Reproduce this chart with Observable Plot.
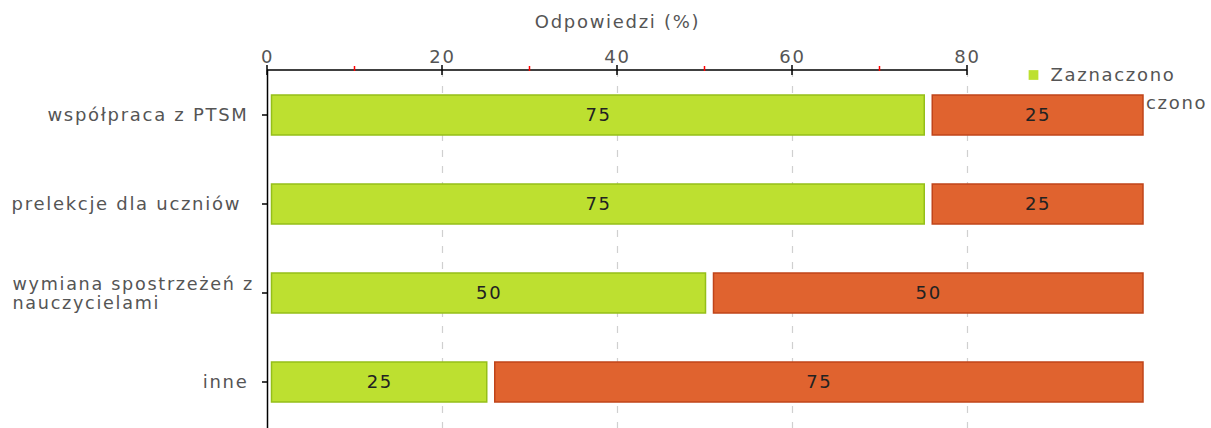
<!DOCTYPE html>
<html>
<head>
<meta charset="utf-8">
<script src="https://cdn.jsdelivr.net/npm/d3@7"></script>
<script src="https://cdn.jsdelivr.net/npm/@observablehq/plot@0.6"></script>
<style>
  html, body { margin: 0; padding: 0; background: #fff; }
  #chart { width: 1211px; height: 428px; overflow: hidden; }
</style>
</head>
<body>
<div id="chart"></div>
<script>
// ---- data ----
const categories = ["współpraca z PTSM", "prelekcje dla uczniów ", "wymiana spostrzeżeń z nauczycielami", "inne"];
const categoryLabels = ["współpraca z PTSM", "prelekcje dla uczniów\u00a0", "wymiana spostrzeżeń z\nnauczycielami", "inne"];
const zaznaczono = [75, 75, 50, 25];
const niezaznaczono = [25, 25, 50, 75];
const series = ["Zaznaczono", "Niezaznaczono"];
const xTicks = [0, 20, 40, 60, 80];
const xMinorTicks = [10, 30, 50, 70];
const gridTicks = [20, 40, 60, 80];
const axisTitle = "Odpowiedzi (%)";

// ---- style ----
const FONT = "DejaVu Sans, Verdana, sans-serif";
const FS = 18;
const GREEN = "#bde030", GREEN_STROKE = "#95bf18";
const ORANGE = "#e0632f", ORANGE_STROKE = "#c0441a";
const TEXT = "#555";

const rows = categories.map((c, i) => ({cat: c, label: categoryLabels[i], yes: zaznaczono[i], no: niezaznaczono[i]}));
const singleLine = rows.filter(d => !d.label.includes("\n"));
const multiLine = rows.filter(d => d.label.includes("\n"));

function axes(index, scales, values, dims) {
  const g = d3.create("svg:g");
  const y0 = dims.marginTop;
  const x = scales.x, y = scales.y;
  const bw = (y.bandwidth ? y.bandwidth() : scales.scales.y.bandwidth) / 2;
  g.append("line")
    .attr("x1", x(xTicks[0])).attr("x2", x(xTicks[xTicks.length - 1]))
    .attr("y1", y0).attr("y2", y0)
    .attr("stroke", "#000").attr("stroke-width", 1.5);
  g.selectAll(".maj").data(xTicks).join("line")
    .attr("x1", d => x(d)).attr("x2", d => x(d))
    .attr("y1", y0 - 5).attr("y2", y0 + 5)
    .attr("stroke", "#000").attr("stroke-width", 1.5);
  g.selectAll(".min").data(xMinorTicks).join("line")
    .attr("x1", d => x(d)).attr("x2", d => x(d))
    .attr("y1", y0 - 4).attr("y2", y0 + 1)
    .attr("stroke", "#ff0000").attr("stroke-width", 1.5);
  g.selectAll(".yt").data(categories).join("line")
    .attr("x1", x(0) - 5).attr("x2", x(0))
    .attr("y1", d => y(d) + bw).attr("y2", d => y(d) + bw)
    .attr("stroke", "#000").attr("stroke-width", 1.5);
  return g.node();
}

const legendMarks = series.flatMap((s, i) => [
  Plot.dot([s], {frameAnchor: "top-left", dx: 766, dy: 4.5 + 28 * i, symbol: "square", r: 5.5, fill: i === 0 ? GREEN : ORANGE}),
  Plot.text([s], {frameAnchor: "top-left", dx: 783, dy: 5 + 28 * i, lineAnchor: "middle", text: d => d, textAnchor: "start", fill: TEXT, fontSize: FS})
]);

const chart = Plot.plot({
  width: 1211,
  height: 428,
  marginTop: 70,
  marginBottom: 0,
  marginLeft: 267,
  marginRight: 69,
  style: {fontFamily: FONT, fontSize: FS + "px", letterSpacing: "1.7px", background: "transparent", overflow: "visible"},
  x: {type: "linear", domain: [0, 100], axis: null},
  y: {type: "band", domain: categories, paddingInner: 0.55, paddingOuter: 0.275, axis: null},
  marks: [
    Plot.gridX(gridTicks, {stroke: "#d0d0d0", strokeOpacity: 1, strokeDasharray: "7,9", strokeWidth: 1.2}),
    ...legendMarks,
    Plot.axisX(xTicks, {anchor: "top", tickSize: 0, tickPadding: 8, fill: TEXT, fontSize: FS, label: null}),
    Plot.text([axisTitle], {x: d3.mean(xTicks), frameAnchor: "top", lineAnchor: "middle", dy: -48, text: d => d, fill: TEXT, fontSize: FS}),
    Plot.ruleX([0], {stroke: "#000", strokeWidth: 1.5}),
    Plot.text(singleLine, {y: "cat", text: "label", frameAnchor: "left", dx: -19, textAnchor: "end", fill: TEXT, fontSize: FS}),
    Plot.text(multiLine, {y: "cat", text: "label", frameAnchor: "left", dx: -255, textAnchor: "start", lineHeight: 1.05, fill: TEXT, fontSize: 17.6}),
    Plot.barX(rows, {x1: 0, x2: "yes", y: "cat", fill: GREEN, stroke: GREEN_STROKE, strokeWidth: 1.5, insetLeft: 4.5, insetRight: -1}),
    Plot.barX(rows, {x1: "yes", x2: d => d.yes + d.no, y: "cat", fill: ORANGE, stroke: ORANGE_STROKE, strokeWidth: 1.5, insetLeft: 9, insetRight: -1}),
    Plot.text(rows, {x: d => d.yes / 2, y: "cat", text: "yes", dx: 3, fill: "#222", fontSize: FS}),
    Plot.text(rows, {x: d => d.yes + d.no / 2, y: "cat", text: "no", dx: 5, fill: "#222", fontSize: FS}),
    axes
  ]
});

document.getElementById("chart").appendChild(chart);
</script>
</body>
</html>
